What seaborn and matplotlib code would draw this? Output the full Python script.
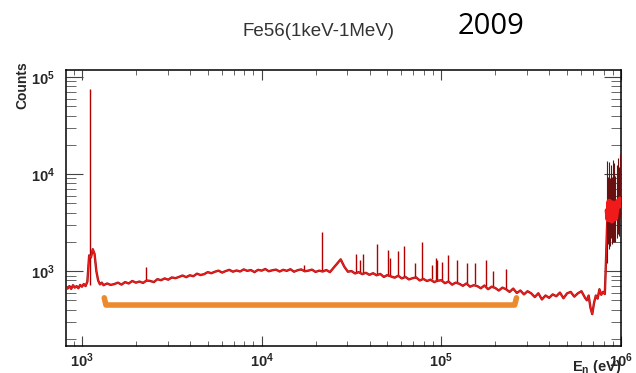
import numpy as np
import pandas as pd
import matplotlib
matplotlib.use("Agg")
import matplotlib.pyplot as plt
import seaborn as sns

# Spektrum (log10 Energie / Counts)
log_e = [2.92, 2.93, 2.94, 2.95, 2.96, 2.97, 2.98, 2.99, 3.00, 3.01,
         3.02, 3.03, 3.04, 3.05, 3.06, 3.07, 3.08, 3.09, 3.10, 3.11,
         3.12, 3.14, 3.16, 3.18, 3.20, 3.22, 3.24, 3.26, 3.28, 3.30,
         3.32, 3.34, 3.36, 3.38, 3.40, 3.42, 3.44, 3.46, 3.48, 3.50,
         3.52, 3.54, 3.56, 3.58, 3.60, 3.62, 3.64, 3.66, 3.68, 3.70,
         3.72, 3.74, 3.76, 3.78, 3.80, 3.82, 3.84, 3.86, 3.88, 3.90,
         3.92, 3.94, 3.96, 3.98, 4.00, 4.02, 4.04, 4.06, 4.08, 4.10,
         4.12, 4.14, 4.16, 4.18, 4.20, 4.22, 4.24, 4.26, 4.28, 4.30,
         4.32, 4.34, 4.36, 4.38, 4.40, 4.42, 4.44, 4.46, 4.48, 4.50,
         4.52, 4.54, 4.56, 4.58, 4.60, 4.62, 4.64, 4.66, 4.68, 4.70,
         4.72, 4.74, 4.76, 4.78, 4.80, 4.82, 4.84, 4.86, 4.88, 4.90,
         4.92, 4.94, 4.96, 4.98, 5.00, 5.02, 5.04, 5.06, 5.08, 5.10,
         5.12, 5.14, 5.16, 5.18, 5.20, 5.22, 5.24, 5.26, 5.28, 5.30,
         5.32, 5.34, 5.36, 5.38, 5.40, 5.42, 5.44, 5.46, 5.48, 5.50,
         5.52, 5.54, 5.56, 5.58, 5.60, 5.62, 5.64, 5.66, 5.68, 5.70,
         5.72, 5.74, 5.76, 5.78, 5.80, 5.81, 5.82, 5.83, 5.84, 5.85,
         5.86, 5.87, 5.88, 5.89, 5.90, 5.91, 5.915, 5.925]
counts = [660, 700, 655, 715, 675, 700, 665, 720, 690, 735,
          700, 780, 1450, 1380, 1680, 1500, 1000, 800, 730, 760,
          715, 745, 720, 735, 760, 725, 770, 745, 790, 760,
          780, 755, 800, 790, 770, 825, 805, 840, 815, 860,
          845, 870, 900, 865, 905, 885, 940, 910, 930, 975,
          950, 985, 1010, 965, 1000, 1030, 985, 1015, 990, 1040,
          1005, 1025, 975, 1030, 1010, 1050, 995, 1020, 1035, 990,
          1030, 1005, 1045, 985, 1020, 1040, 995, 1010, 1035, 980,
          1010, 990, 1025, 975, 1080, 1200, 1320, 1110, 985, 1000,
          945, 975, 930, 960, 915, 950, 905, 935, 870, 910,
          880, 855, 895, 840, 870, 820, 845, 860, 800, 830,
          790, 815, 770, 795, 805, 750, 780, 725, 760, 740,
          705, 745, 690, 715, 700, 665, 710, 650, 690, 670,
          630, 675, 650, 610, 660, 595, 630, 575, 620, 590,
          540, 590, 510, 560, 530, 575, 550, 600, 525, 590,
          610, 545, 590, 620, 530, 500, 560, 420, 360, 470,
          560, 520, 650, 570, 610, 580, 1050, 4000]

# Einzelne Linien (Energie, Fuß, Spitze)
spike_e = [1.108e3, 2.27e3, 1.71e4, 2.18e4, 3.33e4, 3.54e4, 3.67e4, 4.40e4,
           5.06e4, 5.20e4, 5.75e4, 6.2e4, 7.18e4, 7.84e4, 8.9e4, 9.3e4,
           9.5e4, 1.01e5, 1.09e5, 1.23e5, 1.39e5, 1.54e5, 1.78e5, 1.95e5, 2.3e5]
spike_base = [720, 790, 1000, 1000, 960, 950, 945, 920,
              900, 900, 880, 870, 850, 840, 820, 815,
              810, 800, 790, 770, 750, 730, 705, 690, 660]
spike_top = [7.5e4, 1.1e3, 1.15e3, 2.52e3, 1.5e3, 1.3e3, 1.5e3, 1.9e3,
             1.65e3, 1.35e3, 1.6e3, 1.8e3, 1.2e3, 2.0e3, 1.15e3, 1.35e3,
             1.3e3, 1.25e3, 1.45e3, 1.3e3, 1.2e3, 1.2e3, 1.3e3, 1.0e3, 1.05e3]

# Bereich oberhalb 840 keV mit Fehlerbalken
block_e = [8.4e5, 8.5e5, 8.6e5, 8.7e5, 8.8e5, 8.9e5, 9.0e5, 9.1e5, 9.2e5,
           9.3e5, 9.45e5, 9.6e5, 9.75e5, 9.9e5]
block_c = [4200, 3400, 5200, 3600, 4800, 3300, 5000, 3900, 4600,
           3500, 4400, 5200, 4700, 5500]
block_lo = [3000, 1500, 3500, 1800, 2600, 1400, 3000, 1900, 2500,
            1500, 2200, 2800, 2400, 2000]
block_hi = [9500, 6000, 8000, 5500, 7500, 6000, 9000, 6500, 8500,
            6000, 8000, 9500, 7000, 10500]

# orange Klammer
bracket_e = [1.33e3, 1.36e3, 2.56e5, 2.62e5]
bracket_c = [530, 447, 447, 530]

spec = pd.DataFrame({"E": np.power(10.0, log_e), "Counts": counts})

sns.set_theme(style="ticks")
plt.rcParams["font.family"] = ["Liberation Sans", "DejaVu Sans"]
plt.rcParams["mathtext.fontset"] = "custom"
plt.rcParams["mathtext.bf"] = "Liberation Sans:bold"
plt.rcParams["mathtext.rm"] = "Liberation Sans"

fig = plt.figure(figsize=(6.36, 3.73), dpi=100)
ax = fig.add_axes([0.1038, 0.0724, 0.8726, 0.7399])

ax.plot(bracket_e, bracket_c, color="#ec8a2e", lw=4, solid_capstyle="round",
        solid_joinstyle="round", zorder=1)
ax.vlines(spike_e, spike_base, spike_top, color="#b00000", lw=1.0, zorder=2)
# dunkler Rand + rote Linie (wie ROOT-Histogramm mit Fehlern)
sns.lineplot(data=spec, x="E", y="Counts", ax=ax, color="#a81010", lw=1.7,
             estimator=None, sort=False, zorder=3)
sns.lineplot(data=spec, x="E", y="Counts", ax=ax, color="#f01c1c", lw=0.9,
             estimator=None, sort=False, zorder=4)
ax.errorbar(block_e, block_c, yerr=[block_lo, block_hi], xerr=5000,
            color="#f01a1a", ecolor="#6a1010", elinewidth=0.8, lw=4, zorder=4)

ax.set_xscale("log")
ax.set_yscale("log")
ax.set_xlim(815, 1.0e6)
ax.set_ylim(169, 1.18e5)

ax.set_xticks([1e3, 1e4, 1e5, 1e6])
ax.set_xticklabels([r"$\mathbf{10^{3}}$", r"$\mathbf{10^{4}}$",
                    r"$\mathbf{10^{5}}$", r"$\mathbf{10^{6}}$"])
ax.set_yticks([1e3, 1e4, 1e5])
ax.set_yticklabels([r"$\mathbf{10^{3}}$", r"$\mathbf{10^{4}}$",
                    r"$\mathbf{10^{5}}$"])
ax.tick_params(axis="x", which="major", direction="in", top=True, length=7,
               width=0.8, color="#444444", labelsize=10.5, pad=4)
ax.tick_params(axis="x", which="minor", direction="in", top=True, length=3.5,
               width=0.7, color="#666666")
ax.tick_params(axis="y", which="major", direction="in", right=True, length=12,
               width=0.8, color="#444444", labelsize=10.5, pad=8)
ax.tick_params(axis="y", which="minor", direction="in", right=True, length=7,
               width=0.7, color="#666666")
for s in ax.spines.values():
    s.set_color("black")
    s.set_linewidth(1.1)
ax.set_xlabel("")
ax.set_ylabel("")

fig.text(22 / 636, 1 - 85 / 373, "Counts", rotation=90, ha="center",
         va="center", fontsize=10, fontweight="bold")
fig.text(572 / 636, 1 - 358 / 373, r"$\mathbf{E_{n}}$ (eV)", ha="left",
         va="top", fontsize=10.5, fontweight="bold")
fig.text(318 / 636, 1 - 32 / 373, "Fe56(1keV-1MeV)", ha="center",
         va="center", fontsize=13.5, color="#333333")
fig.text(491 / 636, 1 - 26 / 373, "2009", ha="center", va="center",
         fontsize=21, family=["Open Sans", "DejaVu Sans"], color="black")

fig.savefig("out.png", dpi=100)
